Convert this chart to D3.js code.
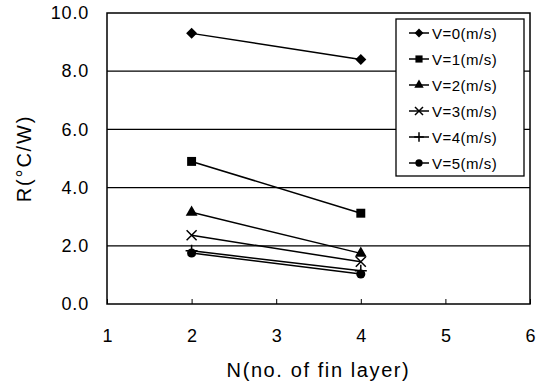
<!DOCTYPE html>
<html>
<head>
<meta charset="utf-8">
<script src="https://cdn.jsdelivr.net/npm/d3@7"></script>
<style>
  body { margin: 0; background: #fff; }
  text { font-family: "Liberation Sans", Arial, sans-serif; fill: #000; }
</style>
</head>
<body>
<div id="app"></div>
<script>
const w = 551;
const h = 385;

// data
const layers = [2, 4];
const seriesNames = ["V=0(m/s)", "V=1(m/s)", "V=2(m/s)", "V=3(m/s)", "V=4(m/s)", "V=5(m/s)"];
const v0 = [9.30, 8.40];
const v1 = [4.90, 3.12];
const v2 = [3.15, 1.74];
const v3 = [2.36, 1.45];
const v4 = [1.83, 1.14];
const v5 = [1.75, 1.03];
const symbols = ["diamond", "square", "triangle", "cross", "plus", "circle"];
const xTicks = [1, 2, 3, 4, 5, 6];
const yTicks = [0, 2, 4, 6, 8, 10];

const allSeries = [v0, v1, v2, v3, v4, v5];

const margin = { top: 13, right: 21, bottom: 81, left: 107 };

const svg = d3.select('#app')
  .append('svg')
  .attr('width', w)
  .attr('height', h);

const x = d3.scaleLinear().domain([1, 6]).range([margin.left, w - margin.right]);
const y = d3.scaleLinear().domain([0, 10]).range([h - margin.bottom, margin.top]);

//////////GRID//////////
svg.append('g')
  .selectAll('line')
  .data(yTicks.filter(d => d > 0 && d < 10))
  .join('line')
  .attr('x1', x(1)).attr('x2', x(6))
  .attr('y1', d => y(d)).attr('y2', d => y(d))
  .attr('stroke', '#000')
  .attr('stroke-width', 1.2);

// frame
svg.append('rect')
  .attr('x', x(1)).attr('y', y(10))
  .attr('width', x(6) - x(1)).attr('height', y(0) - y(10))
  .attr('fill', 'none')
  .attr('stroke', '#000')
  .attr('stroke-width', 1.5);

//////////AXES//////////
const xAxis = svg.append('g')
  .attr('transform', `translate(0,${y(0)})`)
  .call(d3.axisBottom(x).tickValues(xTicks).tickSize(-5).tickPadding(25).tickFormat(d3.format('d')));
xAxis.select('.domain').remove();
xAxis.selectAll('.tick line').attr('stroke', '#000');
xAxis.selectAll('.tick text').style('font-size', '18px');

const yAxis = svg.append('g')
  .attr('transform', `translate(${x(1)},0)`)
  .call(d3.axisLeft(y).tickValues(yTicks).tickSize(0).tickPadding(18).tickFormat(d3.format('.1f')));
yAxis.select('.domain').remove();
yAxis.selectAll('.tick text').style('font-size', '18px').style('letter-spacing', '0.8px');

svg.append('text')
  .attr('x', (x(1) + x(6)) / 2)
  .attr('y', 377)
  .attr('text-anchor', 'middle')
  .style('font-size', '20px')
  .style('letter-spacing', '1.6px')
  .text('N(no. of fin layer)');

svg.append('text')
  .attr('transform', `translate(31,${(y(0) + y(10)) / 2}) rotate(-90)`)
  .attr('text-anchor', 'middle')
  .style('font-size', '20px')
  .style('letter-spacing', '1.8px')
  .text('R(°C/W)');

//////////MARKERS//////////
const symbolMap = {
  square: d3.symbolSquare,
  triangle: d3.symbolTriangle,
  circle: d3.symbolCircle
};
const symbolSize = { square: 80, triangle: 60, circle: 65 };

function drawMarker(g, type, cx, cy, s = 1) {
  const p = g.append('path').attr('transform', `translate(${cx},${cy}) scale(${s})`);
  if (type === 'cross') {
    p.attr('d', 'M-5,-5L5,5M-5,5L5,-5')
      .attr('stroke', '#000').attr('stroke-width', 1.5 / s).attr('fill', 'none');
  } else if (type === 'plus') {
    p.attr('d', 'M-6,0L6,0M0,-6L0,6')
      .attr('stroke', '#000').attr('stroke-width', 1.5 / s).attr('fill', 'none');
  } else if (type === 'diamond') {
    p.attr('d', 'M0,-5.5L5.5,0L0,5.5L-5.5,0Z').attr('fill', '#000');
  } else {
    p.attr('d', d3.symbol(symbolMap[type], symbolSize[type])()).attr('fill', '#000');
  }
}

const line = d3.line().x((d, i) => x(layers[i])).y(d => y(d));

allSeries.forEach((vals, si) => {
  const g = svg.append('g').attr('class', 'series');
  g.append('path')
    .datum(vals)
    .attr('d', line)
    .attr('fill', 'none')
    .attr('stroke', '#000')
    .attr('stroke-width', 1.5);
  vals.forEach((v, i) => drawMarker(g, symbols[si], x(layers[i]), y(v)));
});

//////////LEGEND//////////
const legend = svg.append('g');
legend.append('rect')
  .attr('x', 396).attr('y', 19)
  .attr('width', 128).attr('height', 157)
  .attr('fill', '#fff')
  .attr('stroke', '#000')
  .attr('stroke-width', 1.3);

seriesNames.forEach((name, i) => {
  const ly = 33 + i * 26;
  legend.append('line')
    .attr('x1', 409).attr('x2', 429)
    .attr('y1', ly).attr('y2', ly)
    .attr('stroke', '#000').attr('stroke-width', 1.5);
  drawMarker(legend, symbols[i], 419, ly, 0.8);
  legend.append('text')
    .attr('x', 432).attr('y', ly + 5.5)
    .style('font-size', '15px')
    .style('letter-spacing', '0.5px')
    .text(name);
});
</script>
</body>
</html>
